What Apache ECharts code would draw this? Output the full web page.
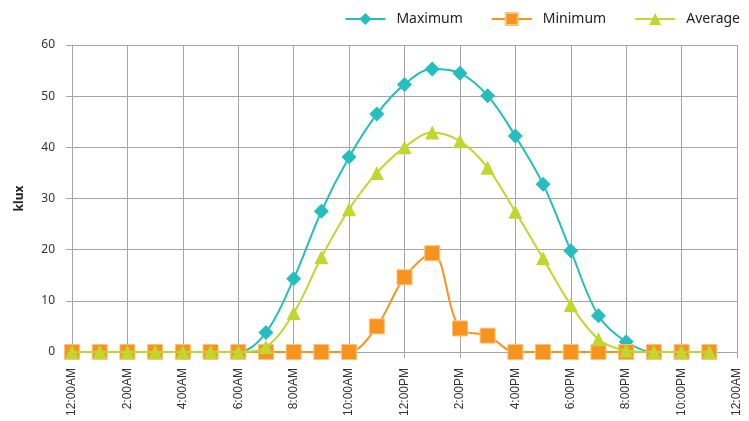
<!DOCTYPE html>
<html>
<head>
<meta charset="utf-8">
<script src="https://cdn.jsdelivr.net/npm/echarts@6/dist/echarts.min.js"></script>
<style>html,body{margin:0;padding:0;background:#fff}#c{width:749px;height:421px}</style>
</head>
<body>
<div id="c"></div>
<script>
const hours = [0,1,2,3,4,5,6,7,8,9,10,11,12,13,14,15,16,17,18,19,20,21,22,23];
const tickLabels = ['12:00AM','2:00AM','4:00AM','6:00AM','8:00AM','10:00AM','12:00PM','2:00PM','4:00PM','6:00PM','8:00PM','10:00PM','12:00AM'];
const maximum = [0,0,0,0,0,0,0,3.8,14.3,27.5,38.1,46.5,52.3,55.3,54.5,50.1,42.2,32.8,19.8,7.1,2.0,0,0,0];
const minimum = [0,0,0,0,0,0,0,0,0,0,0,5.0,14.6,19.3,4.6,3.2,0,0,0,0,0,0,0,0];
const average = [0,0,0,0,0,0,0,1.0,7.6,18.5,27.9,35.0,40.0,42.9,41.2,36.0,27.4,18.3,9.2,2.5,0.3,0,0,0];

const pair = arr => hours.map((h, i) => [h, arr[i]]);
const chart = echarts.init(document.getElementById('c'));
chart.setOption({
  animation: false,
  grid: {left: 72, right: 12, top: 45, bottom: 69, containLabel: false},
  legend: {
    right: 4, top: 7, itemWidth: 40, itemHeight: 15, itemGap: 28,
    textStyle: {fontFamily: 'Noto Sans', fontSize: 14, color: '#222', padding: [0, 0, 0, 6]},
    data: ['Maximum', 'Minimum', 'Average']
  },
  xAxis: {
    type: 'value', min: 0, max: 24, interval: 2,
    axisLine: {show: true, lineStyle: {color: '#a6a6a6', width: 1}},
    axisTick: {show: true, length: 6, lineStyle: {color: '#a6a6a6'}},
    splitLine: {show: true, lineStyle: {color: '#a6a6a6', width: 1}},
    axisLabel: {
      rotate: 90, margin: 16, fontFamily: 'Liberation Sans', fontSize: 12, color: '#333',
      formatter: v => tickLabels[Math.round(v / 2)]
    }
  },
  yAxis: {
    type: 'value', min: 0, max: 60, interval: 10,
    name: 'klux', nameLocation: 'middle', nameGap: 46, nameRotate: 90,
    nameTextStyle: {fontFamily: 'Noto Sans', fontWeight: 'bold', fontSize: 12, color: '#222'},
    axisLine: {show: true, lineStyle: {color: '#a6a6a6', width: 1}},
    axisTick: {show: true, inside: false, length: 6, lineStyle: {color: '#a6a6a6'}},
    splitLine: {show: true, lineStyle: {color: '#a6a6a6', width: 1}},
    axisLabel: {margin: 17, fontFamily: 'Noto Sans', fontSize: 12, color: '#333'}
  },
  series: [
    {name: 'Maximum', type: 'line', smooth: 0.35, data: pair(maximum),
     symbol: 'diamond', symbolSize: 15, color: '#26BDBE',
     lineStyle: {width: 2, color: '#26BDBE'}, itemStyle: {color: '#26BDBE'}, z: 2},
    {name: 'Minimum', type: 'line', smooth: 0.35, data: pair(minimum),
     symbol: 'rect', symbolSize: 15, color: '#F7941D',
     lineStyle: {width: 2, color: '#F7941D'}, itemStyle: {color: '#F7941D', borderColor: '#FBC27E', borderWidth: 1}, z: 3},
    {name: 'Average', type: 'line', smooth: 0.35, data: pair(average),
     symbol: 'triangle', symbolSize: 14, color: '#C1D72F',
     lineStyle: {width: 2, color: '#C1D72F'}, itemStyle: {color: '#C1D72F'}, z: 4}
  ]
});
</script>
</body>
</html>
